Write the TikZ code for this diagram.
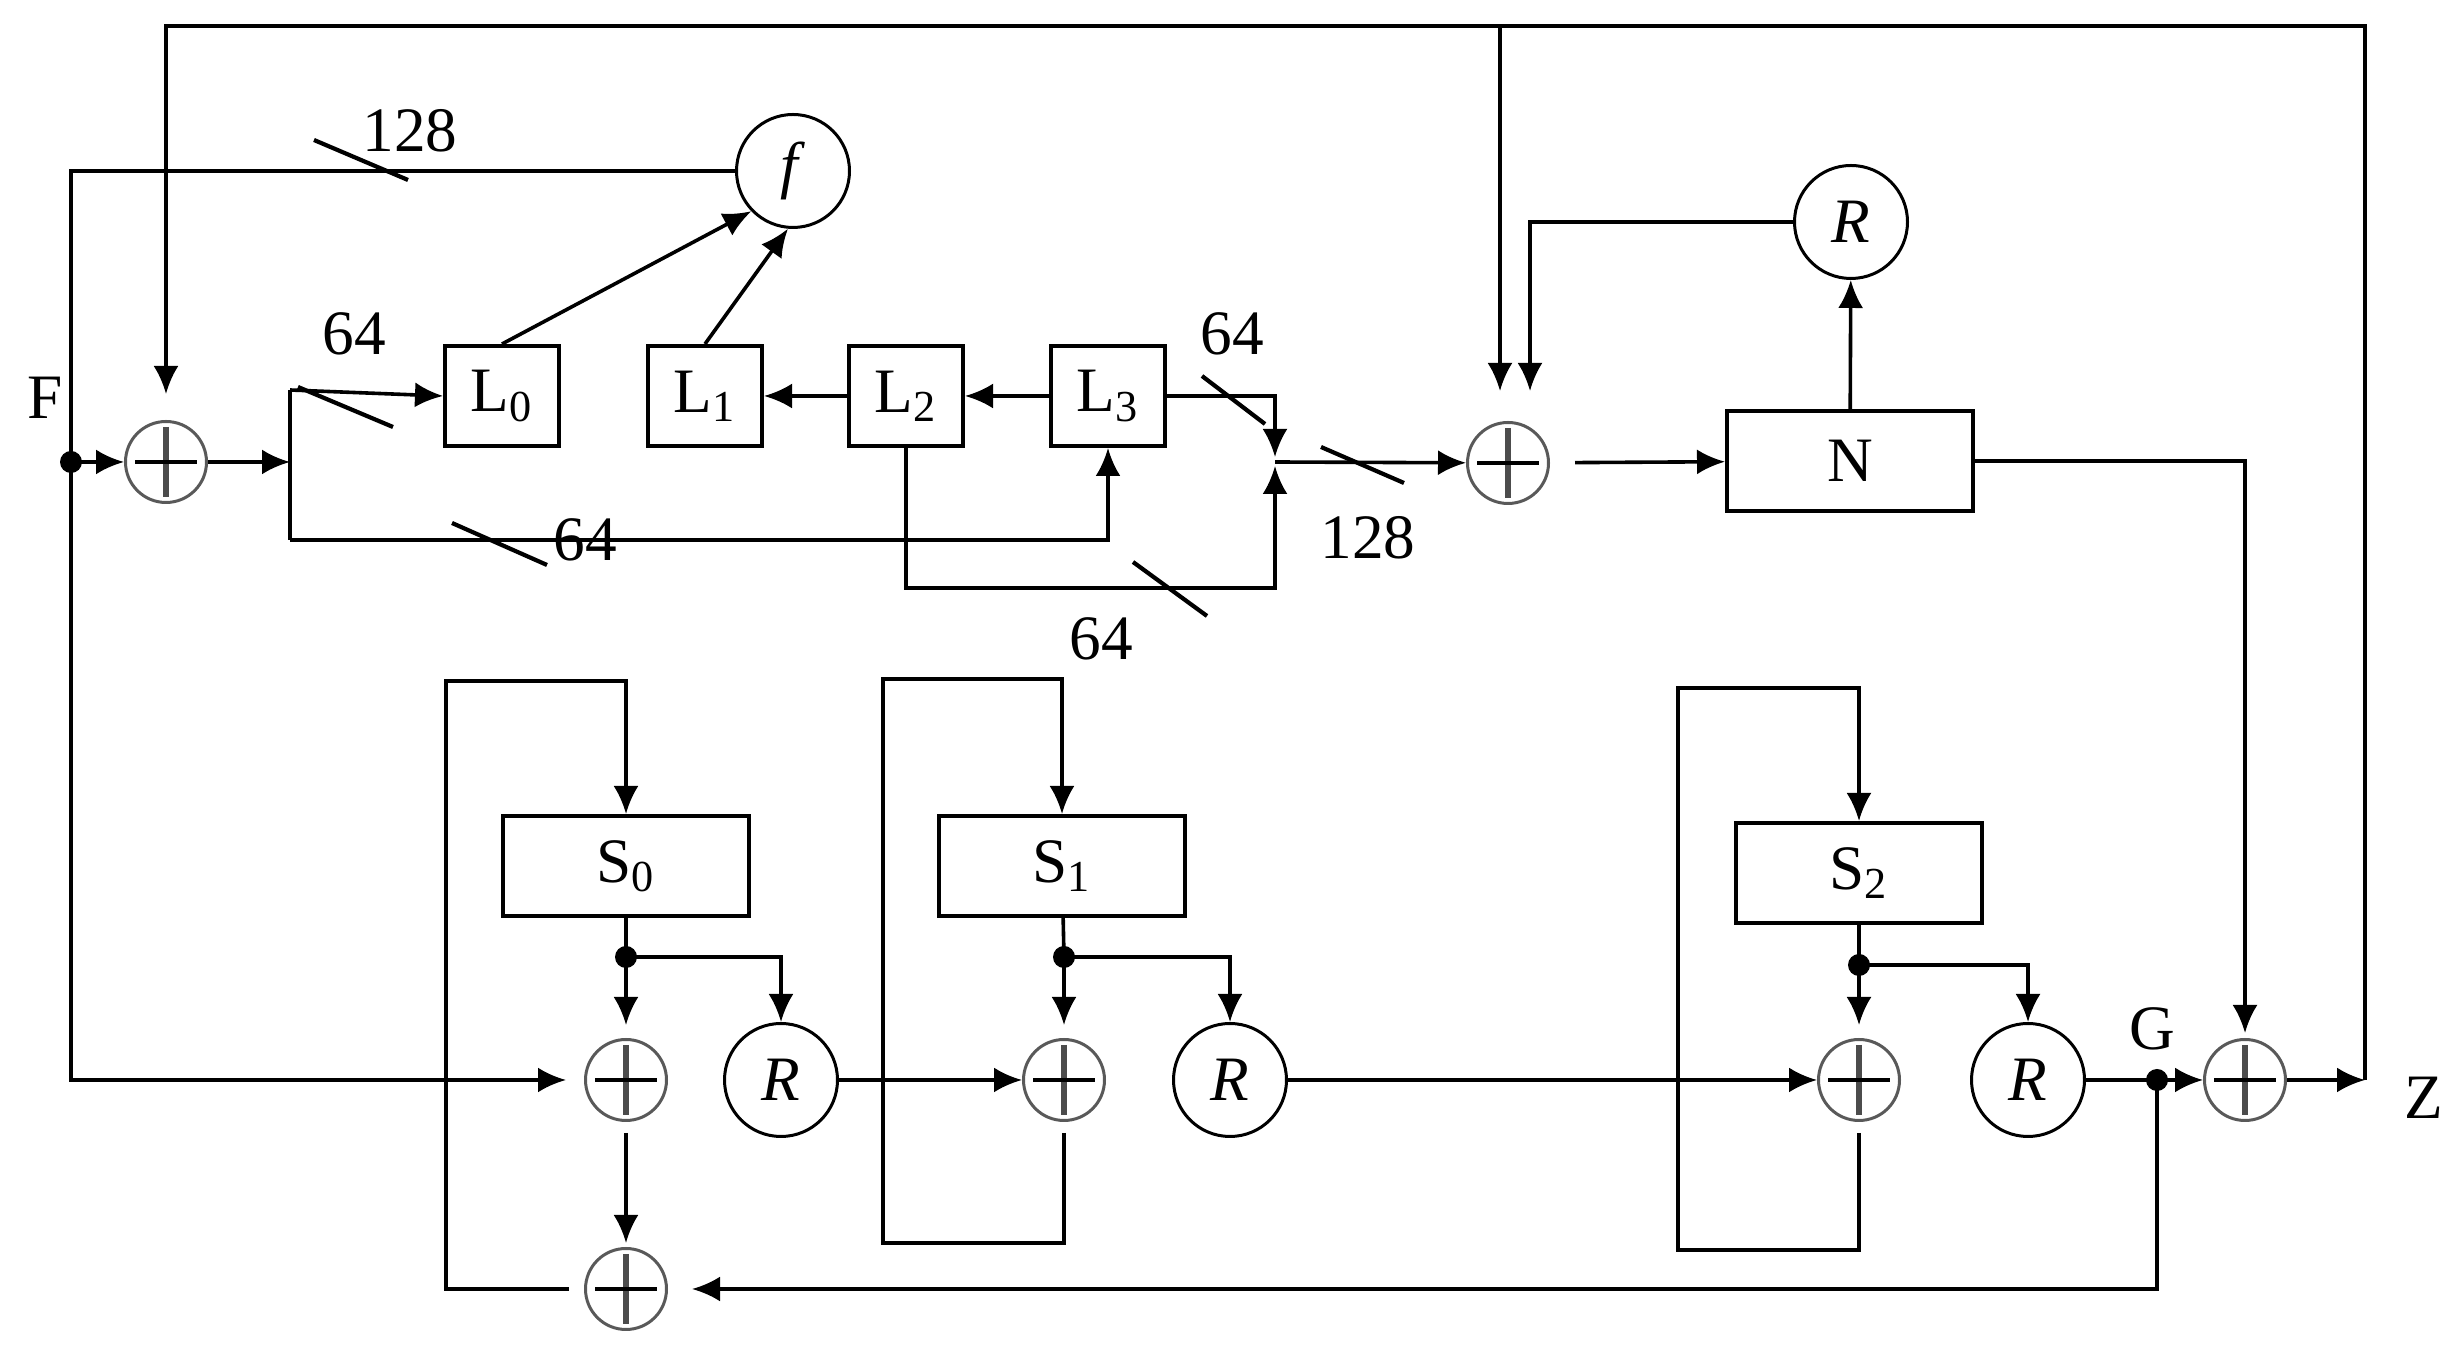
\documentclass[tikz,border=0pt]{standalone}
\usepackage{fontspec}
\setmainfont{Liberation Serif}
\usetikzlibrary{arrows.meta}
\tikzset{>={Latex[length=2.8mm,width=2.5mm]}}
\tikzstyle{reg}=[rectangle, draw, line width=0.4mm, minimum width=11.4mm, minimum height=10mm, inner sep=0pt]
\tikzstyle{wide}=[reg, minimum width=24.6mm]
\tikzstyle{fn}=[circle, draw, line width=0.3mm, minimum size=11.3mm, inner sep=0pt]
\tikzstyle{xorsym}=[circle, draw=black!65, line width=0.3mm, minimum size=8.1mm, inner sep=0pt,
  path picture={
    \draw[black!70, line width=0.6mm] ([yshift=3.5mm]path picture bounding box.center) -- ([yshift=-3.5mm]path picture bounding box.center);
    \draw[black, line width=0.35mm] ([xshift=-3.1mm]path picture bounding box.center) -- ([xshift=3.1mm]path picture bounding box.center);}]
\tikzstyle{bus}=[line width=0.42mm]
\newcommand{\regbox}{\node[reg]}
\newcommand{\xorsym}{\node[xorsym]}
\newcommand{\fnode}{\node[fn]}

\begin{document}
\begin{tikzpicture}[x=0.1mm, y=-0.1mm, line width=0.36mm, font=\fontsize{18}{21}\selectfont]
\useasboundingbox (0,0) rectangle (2462,1351);
% upper part
\xorsym (x1) at (166,462) {};
\regbox (l0) at (502,396) {L\textsubscript{0}};
\regbox (l1) at (705,396) {L\textsubscript{1}};
\regbox (l2) at (906,396) {L\textsubscript{2}};
\regbox (l3) at (1108,396) {L\textsubscript{3}};
\fnode (f) at (793,171) {\textit{f}};
\xorsym (x2) at (1508,463) {};
\node[wide] (n) at (1850,461) {N};
\fnode (rn) at (1851,222) {\textit{R}};
% lower part
\node[wide] (s0) at (626,866) {S\textsubscript{0}};
\node[wide] (s1) at (1062,866) {S\textsubscript{1}};
\node[wide] (s2) at (1859,873) {S\textsubscript{2}};
\xorsym (xa) at (626,1080) {};
\fnode (ra) at (781,1080) {\textit{R}};
\xorsym (xb) at (1064,1080) {};
\fnode (rb) at (1230,1080) {\textit{R}};
\xorsym (xd) at (1859,1080) {};
\fnode (rc) at (2028,1080) {\textit{R}};
\xorsym (xe) at (2245,1080) {};
\xorsym (xc) at (626,1289) {};

\coordinate (fdot) at (71,462);
\coordinate (split) at (290,462);
\coordinate (splitup) at (290,390);
\coordinate (splitdn) at (290,540);
\coordinate (join) at (1275,462);
\coordinate (lowbus) at (1275,588);
\coordinate (zout) at (2365,1080);
\coordinate (top) at (166,26);
\coordinate (top2) at (1500,26);
\coordinate (d0) at (626,957);
\coordinate (d1) at (1064,957);
\coordinate (d2) at (1859,965);
\coordinate (g) at (2157,1080);
\coordinate (c0) at (446,681);
\coordinate (c1a) at (883,1243);
\coordinate (c1b) at (883,679);
\coordinate (c2a) at (1678,1250);
\coordinate (c2b) at (1678,688);

% labels
\node (t128a) at (410,131) {128};
\node (t64a) at (354,334) {64};
\node (t64b) at (585,540) {64};
\node (t64c) at (1232,334) {64};
\node (t64d) at (1101,639) {64};
\node (t128b) at (1368,538) {128};
\node (tF) at (45,398) {F};
\node (tG) at (2152,1029) {G};
\node (tZ) at (2424,1098) {Z};

% connectors
\draw (f) -| (fdot);
\draw[->] (fdot) -- (x1);
\draw[->, shorten >=1.8mm] (fdot) |- (xa);
\draw[->] (x1) -- (split);
\draw (splitup) -- (splitdn);
\draw[->] (splitup) -- (l0.west);
\draw[->] (splitdn) -| (l3.south);
\draw[->] (l0.north) -- (f.-136);
\draw[->] (l1.north) -- (f.-95);
\draw[->] (l2) -- (l1);
\draw[->] (l3) -- (l2);
\draw[->, shorten >=0.5mm] (l3.east) -| (join);
\draw[->, shorten >=0.4mm] (l2.south) |- (lowbus) -- (join);
\draw[->] (join) -- (x2);
\draw[->, shorten <=2.5mm] (x2) -- (n);
\draw[->] (n) -- (rn);
\draw[->, shorten >=3mm] (rn.west) -| ([xshift=2.2mm]x2.north);
\draw[->, shorten >=3mm] (top2) -- (top2 |- x2.north);
\draw[->, shorten >=2.6mm] (zout) |- (top) -- (x1);
\draw[->, shorten >=0.5mm] (n) -| (xe);
\draw[->] (xe) -- (zout);

\draw (s0) -- (d0);
\draw[->, shorten >=1.3mm] (d0) -- (xa);
\draw[->] (d0) -| (ra);
\draw[->, shorten <=1.1mm, shorten >=0.4mm] (xa) -- (xc);
\draw[->, shorten <=1.5mm] (xc) -| (c0) -| (s0);
\draw[->] (ra) -- (xb);
\draw (s1) -- (d1);
\draw[->, shorten >=1.3mm] (d1) -- (xb);
\draw[->] (d1) -| (rb);
\draw[->, shorten <=1.1mm] (xb) |- (c1a) -- (c1b) -| (s1);
\draw[->] (rb) -- (xd);
\draw (s2) -- (d2);
\draw[->, shorten >=1.3mm] (d2) -- (xd);
\draw[->] (d2) -| (rc);
\draw[->, shorten <=1.1mm] (xd) |- (c2a) -- (c2b) -| (s2);
\draw (rc) -- (g);
\draw[->] (g) -- (xe);
\draw[->, shorten >=2.4mm] (g) |- (xc);

% bus width marks
\draw[bus]
(314,140) -- (408,180)
(298,387) -- (393,427)
(452,523) -- (547,565)
(1202,376) -- (1265,424)
(1133,562) -- (1207,616)
(1321,447) -- (1404,483);

\fill (fdot) circle (1.1mm);
\fill (d0) circle (1.1mm);
\fill (d1) circle (1.1mm);
\fill (d2) circle (1.1mm);
\fill (g) circle (1.1mm);
\end{tikzpicture}
\end{document}
